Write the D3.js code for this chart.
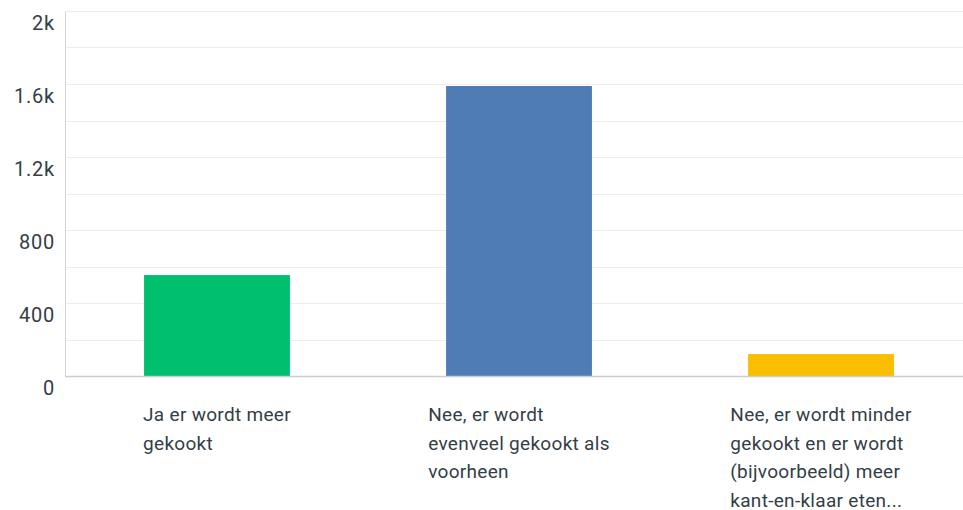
<!DOCTYPE html>
<html><head><meta charset="utf-8">
<script src="https://cdn.jsdelivr.net/npm/d3@7"></script>
<style>
html,body{margin:0;padding:0;background:#fff;}
svg{display:block;}
text{font-family:Roboto,"Open Sans",sans-serif;fill:#333e48;}
</style></head>
<body>
<svg id="chart" width="963" height="510"></svg>
<script>
const categories = [
  ["Ja er wordt meer", "gekookt"],
  ["Nee, er wordt", "evenveel gekookt als", "voorheen"],
  ["Nee, er wordt minder", "gekookt en er wordt", "(bijvoorbeeld) meer", "kant-en-klaar eten..."]
];
const values = [553, 1589, 120];
const colors = ["#00bf6f", "#507cb6", "#f9be00"];
const tickValues = [0, 400, 800, 1200, 1600, 2000];
const tickLabels = ["0", "400", "800", "1.2k", "1.6k", "2k"];
const gridValues = [200, 400, 600, 800, 1000, 1200, 1400, 1600, 1800, 2000];

const svg = d3.select("#chart");
const mLeft = 65, mRight = 972, mTop = 11, mBottom = 376;

const x = d3.scaleBand().domain(d3.range(categories.length)).range([mLeft + 1, mRight])
  .paddingInner(0.517).paddingOuter(0.2585);
const y = d3.scaleLinear().domain([0, 2000]).range([mBottom, mTop]);

// gridlines
svg.append("g").selectAll("line").data(gridValues).join("line")
  .attr("x1", mLeft).attr("x2", 963)
  .attr("y1", d => Math.round(y(d)) + 0.5).attr("y2", d => Math.round(y(d)) + 0.5)
  .attr("stroke", "#ececec").attr("stroke-width", 1);

// bars
svg.append("g").selectAll("rect").data(values).join("rect")
  .attr("x", (d, i) => x(i)).attr("width", x.bandwidth())
  .attr("y", d => y(d)).attr("height", d => y(0) - y(d))
  .attr("fill", (d, i) => colors[i]);

// axes lines
svg.append("line").attr("x1", mLeft + 0.5).attr("x2", mLeft + 0.5)
  .attr("y1", mTop + 1).attr("y2", mBottom).attr("stroke", "#d6d6d6");
svg.append("line").attr("x1", mLeft).attr("x2", 963)
  .attr("y1", mBottom + 0.5).attr("y2", mBottom + 0.5).attr("stroke", "#cccccc").attr("stroke-width", 1.5);

// y tick labels
svg.append("g").selectAll("text").data(tickValues).join("text")
  .attr("x", 55).attr("y", d => y(d) + 12)
  .attr("dy", "0.35em").attr("text-anchor", "end")
  .style("font-size", "20px").style("letter-spacing", "0.8px")
  .text((d, i) => tickLabels[i]);

// category labels
const lg = svg.append("g").selectAll("g").data(categories).join("g");
lg.each(function(lines, i) {
  const g = d3.select(this);
  const t = g.append("text").style("font-size", "19px").style("letter-spacing", "0.3px");
  lines.forEach((ln, j) => {
    t.append("tspan").attr("x", 0).attr("y", 421 + j * 28.5).text(ln);
  });
  let w = 0;
  t.selectAll("tspan").each(function() { w = Math.max(w, this.getComputedTextLength()); });
  const cx = x(i) + x.bandwidth() / 2;
  g.attr("transform", `translate(${cx - w / 2},0)`);
});
</script>
</body></html>
